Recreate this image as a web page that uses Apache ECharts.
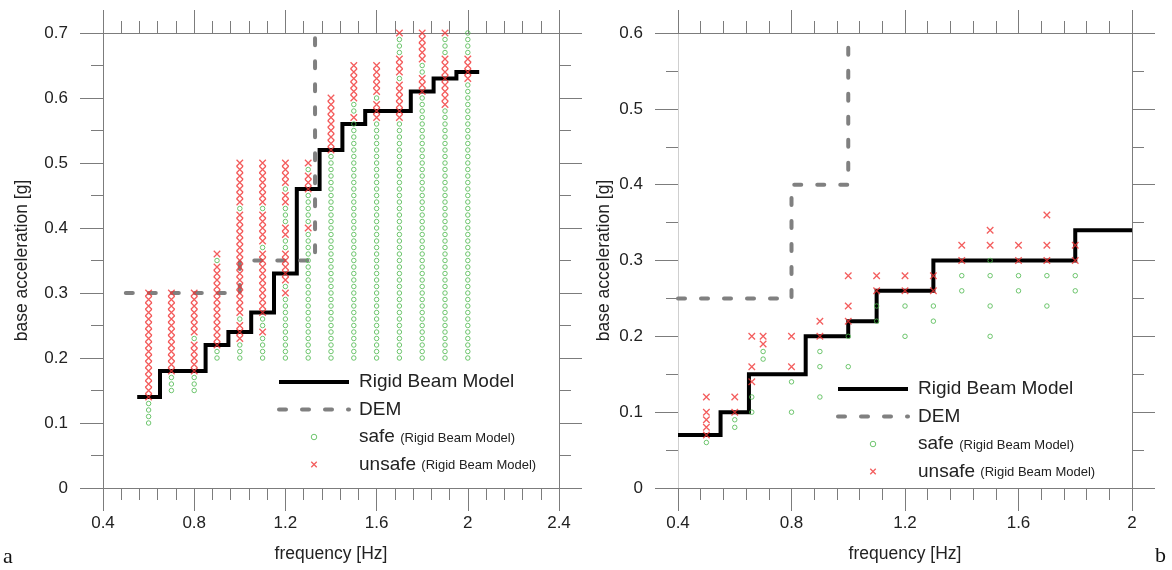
<!DOCTYPE html>
<html>
<head>
<meta charset="utf-8">
<script src="https://cdn.jsdelivr.net/npm/echarts@6/dist/echarts.min.js"></script>
<style>
  html, body { margin: 0; padding: 0; background: #fff; }
  #chart { width: 1172px; height: 570px; }
</style>
</head>
<body>
<div id="chart"></div>
<script>
// ---------- (a) ----------
// Rigid Beam Model stability limit: step edges [Hz] and limit acceleration per step [g]
const rbmEdgesA = [0.55, 0.65, 0.75, 0.85, 0.95, 1.05, 1.15, 1.25, 1.35, 1.45, 1.55, 1.65, 1.75, 1.85, 1.95, 2.05];
const rbmLevelsA = [0.14, 0.18, 0.18, 0.22, 0.24, 0.27, 0.33, 0.46, 0.52, 0.56, 0.58, 0.58, 0.61, 0.63, 0.64];
// DEM limit polyline
const demFreqA = [0.5, 1.0, 1.0, 1.33, 1.33];
const demAccA = [0.30, 0.30, 0.35, 0.35, 0.70];
// Simulated runs: test frequency, lowest acceleration, outcome runs in 0.01 g steps upward
// (o = safe, x = unsafe, number = run length)
const runFreqA = [0.6, 0.7, 0.8, 0.9, 1.0, 1.1, 1.2, 1.3, 1.4, 1.5, 1.6, 1.7, 1.8, 1.9, 2.0];
const runStartA = [0.10, 0.15, 0.15, 0.20, 0.20, 0.20, 0.20, 0.20, 0.20, 0.20, 0.20, 0.20, 0.20, 0.20, 0.20];
const runOutcomeA = [
  'o4 x17',
  'o3 x13',
  'o3 x5 o1 x7',
  'o2 x13 o1 x1',
  'o3 x3 o1 x16 o1 x7',
  'o4 x1 o2 x10 o1 x5 o1 x7',
  'o10 x1 o1 x5 o2 x2 o3 x2 o1 x4',
  'o20 x1 o5 x3 o1 x1',
  'o32 x9',
  'o37 x1 o2 x6',
  'o37 x3 o1 x5',
  'o37 x6 o1 x3 o3 x1',
  'o41 x3 o2 x5',
  'o39 x8 o3 x1',
  'o43 x4 o4'
];

// ---------- (b) ----------
const rbmEdgesB = [0.4, 0.55, 0.65, 0.85, 1.0, 1.1, 1.3, 1.8, 2.0];
const rbmLevelsB = [0.07, 0.10, 0.15, 0.20, 0.22, 0.26, 0.30, 0.34];
const demFreqB = [0.4, 0.8, 0.8, 1.0, 1.0];
const demAccB = [0.25, 0.25, 0.40, 0.40, 0.585];
const runFreqB = [0.5, 0.6, 0.66, 0.7, 0.8, 0.9, 1.0, 1.1, 1.2, 1.3, 1.4, 1.5, 1.6, 1.7, 1.8];
const safeAccB = [
  [0.06], [0.08, 0.09], [0.10, 0.12], [0.17, 0.18], [0.10, 0.14],
  [0.12, 0.16, 0.18], [0.16, 0.20], [0.22, 0.24], [0.20, 0.24], [0.22, 0.24],
  [0.26, 0.28], [0.20, 0.24, 0.28, 0.30], [0.26, 0.28], [0.24, 0.28], [0.26, 0.28]
];
const unsafeAccB = [
  [0.07, 0.08, 0.09, 0.10, 0.12], [0.10, 0.12], [0.14, 0.16, 0.20], [0.19, 0.20], [0.16, 0.20],
  [0.20, 0.22], [0.22, 0.24, 0.28], [0.26, 0.28], [0.26, 0.28], [0.26, 0.28],
  [0.30, 0.32], [0.32, 0.34], [0.30, 0.32], [0.30, 0.32, 0.36], [0.30, 0.32]
];

// ---------- helpers ----------
function stepLine(edges, levels) {
  const pts = [];
  levels.forEach(function (v, i) { pts.push([edges[i], v], [edges[i + 1], v]); });
  return pts;
}
function zip(xs, ys) { return xs.map(function (x, i) { return [x, ys[i]]; }); }
function expandRuns(freqs, starts, runs) {
  const safe = [], unsafe = [];
  freqs.forEach(function (f, i) {
    let k = 0;
    runs[i].split(' ').forEach(function (tok) {
      const n = parseInt(tok.slice(1), 10);
      for (let j = 0; j < n; j++, k++) {
        const g = +(starts[i] + k * 0.01).toFixed(2);
        (tok[0] === 'o' ? safe : unsafe).push([f, g]);
      }
    });
  });
  return { safe: safe, unsafe: unsafe };
}
function expandLists(freqs, lists) {
  const out = [];
  freqs.forEach(function (f, i) { lists[i].forEach(function (g) { out.push([f, g]); }); });
  return out;
}

const runsA = expandRuns(runFreqA, runStartA, runOutcomeA);

const FONT = '"Liberation Sans", Arial, sans-serif';
const AXIS_GRAY = '#7c7c7c';
const RED = '#f03434';
const GREEN = '#4cb84c';
const CROSS = 'path://M0,0L10,10M10,0L0,10';

function makeAxis(opts) {
  return {
    type: 'value',
    gridIndex: opts.grid,
    position: opts.position,
    min: opts.min, max: opts.max, interval: opts.interval,
    axisLine: { show: true, onZero: false, lineStyle: { color: opts.lineColor || AXIS_GRAY, width: 1 } },
    axisTick: { show: true, inside: false, length: 23, lineStyle: { color: AXIS_GRAY, width: 1 } },
    minorTick: { show: true, splitNumber: opts.minor, length: 12, lineStyle: { color: AXIS_GRAY, width: 1 } },
    splitLine: { show: false },
    minorSplitLine: { show: false },
    axisLabel: opts.labels ? {
      show: true, margin: opts.labelMargin, fontSize: 17, color: '#222', fontFamily: FONT
    } : { show: false },
    name: opts.name || '',
    nameLocation: 'middle',
    nameGap: opts.nameGap || 0,
    nameMoveOverlap: false,
    nameTextStyle: { fontSize: 17.5, color: '#222', fontFamily: FONT }
  };
}

const xAxes = [
  makeAxis({ grid: 0, position: 'bottom', min: 0.4, max: 2.4, interval: 0.4, minor: 5, labels: true, labelMargin: 27, name: 'frequency [Hz]', nameGap: 57 }),
  makeAxis({ grid: 0, position: 'top', min: 0.4, max: 2.4, interval: 0.4, minor: 5 }),
  makeAxis({ grid: 1, position: 'bottom', min: 0.4, max: 2.0, interval: 0.4, minor: 5, labels: true, labelMargin: 27, name: 'frequency [Hz]', nameGap: 57 }),
  makeAxis({ grid: 1, position: 'top', min: 0.4, max: 2.0, interval: 0.4, minor: 5 })
];
const yAxes = [
  makeAxis({ grid: 0, position: 'left', min: 0, max: 0.7, interval: 0.1, minor: 2, labels: true, labelMargin: 35, name: 'base acceleration [g]', nameGap: 72 }),
  makeAxis({ grid: 0, position: 'right', min: 0, max: 0.7, interval: 0.1, minor: 2 }),
  makeAxis({ grid: 1, position: 'left', min: 0, max: 0.6, interval: 0.1, minor: 2, labels: true, labelMargin: 35, name: 'base acceleration [g]', nameGap: 65, lineColor: '#cfcfcf' }),
  makeAxis({ grid: 1, position: 'right', min: 0, max: 0.6, interval: 0.1, minor: 2 })
];

function panelSeries(xi, yi, rbm, dem, safe, unsafe) {
  return [
    {
      type: 'line', name: 'Rigid Beam Model', xAxisIndex: xi, yAxisIndex: yi,
      data: rbm, symbol: 'none', z: 2,
      itemStyle: { color: '#000' },
      lineStyle: { color: '#000', width: 4, join: 'miter', cap: 'butt' },
      emphasis: { disabled: true }
    },
    {
      type: 'line', name: 'DEM', xAxisIndex: xi, yAxisIndex: yi,
      data: dem, symbol: 'none', z: 2,
      itemStyle: { color: '#808080' },
      lineStyle: { color: '#808080', width: 4, type: [7, 16], cap: 'round', join: 'round' },
      emphasis: { disabled: true }
    },
    {
      type: 'scatter', name: 'safe', xAxisIndex: xi, yAxisIndex: yi,
      data: safe, symbol: 'circle', symbolSize: 4.5, z: 3,
      itemStyle: { color: 'rgba(0,0,0,0)', borderColor: GREEN, borderWidth: 1 },
      emphasis: { disabled: true }
    },
    {
      type: 'scatter', name: 'unsafe', xAxisIndex: xi, yAxisIndex: yi,
      data: unsafe, symbol: CROSS, symbolSize: 6.5, z: 4,
      itemStyle: { color: 'rgba(0,0,0,0)', borderColor: RED, borderWidth: 1.3 },
      emphasis: { disabled: true }
    }
  ];
}

function makeLegend(left, top) {
  return {
    left: left, top: top, orient: 'vertical', padding: 0,
    itemWidth: 70, itemHeight: 5.5, itemGap: 7.5,
    selectedMode: false,
    data: [
      { name: 'Rigid Beam Model', itemStyle: { opacity: 0 } },
      { name: 'DEM', itemStyle: { opacity: 0 } },
      'safe',
      'unsafe'
    ],
    lineStyle: { width: 'inherit' },
    itemStyle: { borderWidth: 'inherit' },
    formatter: function (name) {
      if (name === 'safe' || name === 'unsafe') return '{m|' + name + '} {s|(Rigid Beam Model)}';
      return '{m|' + name + '}';
    },
    textStyle: {
      fontFamily: FONT, fontSize: 19, color: '#222', lineHeight: 20,
      rich: {
        m: { fontFamily: FONT, fontSize: 19, lineHeight: 20, color: '#222', padding: [0, 0, 0, 5] },
        s: { fontFamily: FONT, fontSize: 13, lineHeight: 20, color: '#222', verticalAlign: 'middle', padding: [2, 0, 0, 0] }
      }
    }
  };
}

const option = {
  animation: false,
  backgroundColor: '#fff',
  grid: [
    { left: 103, top: 33, width: 456, height: 455, containLabel: false, outerBoundsMode: 'none' },
    { left: 678, top: 33, width: 454, height: 455, containLabel: false, outerBoundsMode: 'none' }
  ],
  xAxis: xAxes,
  yAxis: yAxes,
  legend: [makeLegend(277, 372), makeLegend(836, 379)],
  graphic: [
    { type: 'text', left: 3, top: 546, style: { text: 'a', font: '22px "Liberation Serif", serif', fill: '#111' } },
    { type: 'text', left: 1155, top: 545, style: { text: 'b', font: '22px "Liberation Serif", serif', fill: '#111' } }
  ],
  series: [].concat(
    panelSeries(0, 0, stepLine(rbmEdgesA, rbmLevelsA), zip(demFreqA, demAccA), runsA.safe, runsA.unsafe),
    panelSeries(2, 2, stepLine(rbmEdgesB, rbmLevelsB), zip(demFreqB, demAccB), expandLists(runFreqB, safeAccB), expandLists(runFreqB, unsafeAccB))
  )
};

const chart = echarts.init(document.getElementById('chart'), null, { renderer: 'canvas' });
chart.setOption(option);
</script>
</body>
</html>
